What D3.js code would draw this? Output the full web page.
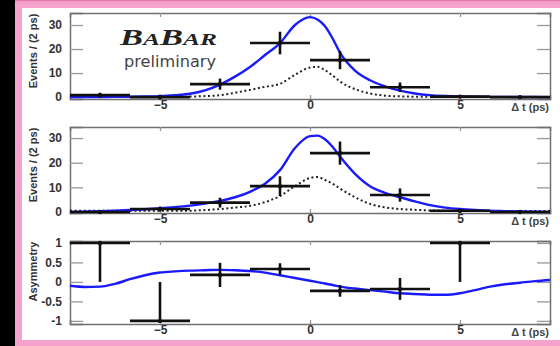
<!DOCTYPE html>
<html>
<head>
<meta charset="utf-8">
<script src="https://cdn.jsdelivr.net/npm/d3@7"></script>
<style>
  html, body { margin: 0; padding: 0; background: #000; }
  svg { display: block; }
  .tick text { font-family: "Liberation Sans", Arial, sans-serif; font-weight: bold; font-size: 12px; fill: #333; }
</style>
</head>
<body>
<svg id="chart" width="560" height="346"></svg>
<script>
// ---- Data ----
const binCenters = [-7, -5, -3, -1, 1, 3, 5, 7];
const binHalfWidth = 1;

// B0 tag: events per 2 ps bin
const tagEvents = [0.8, 0, 5.4, 22.5, 15.4, 4.1, 0.2, 0];
const tagErrors = [1, 1, 2.3, 4.7, 3.8, 2.0, 0.6, 0.5];
// anti-B0 tag: events per 2 ps bin
const antiEvents = [0, 1.2, 3.8, 10.5, 23.9, 6.9, 0.5, 0];
const antiErrors = [0.5, 1, 2.0, 4.0, 4.7, 2.7, 0.7, 0.5];

// Asymmetry per bin (only bins with entries)
const asymCenters = [-7, -5, -3, -1, 1, 3, 5];
const asymValues  = [1, -1, 0.18, 0.33, -0.23, -0.18, 1];
const asymErrLow  = [1, 0, 0.31, 0.15, 0.15, 0.28, 1];
const asymErrHigh = [0, 1, 0.31, 0.15, 0.15, 0.28, 0];

// Fit curves sampled in Δt (ps)
const fitT = [-8, -7.5, -7, -6.5, -6, -5.5, -5, -4.5, -4, -3.5, -3, -2.5, -2, -1.5, -1, -0.5, 0, 0.25, 0.5, 0.75, 1, 1.5, 2, 2.5, 3, 3.5, 4, 4.5, 5, 5.5, 6, 6.5, 7, 7.5, 8];
const tagFit  = [0, 0, 0.05, 0.1, 0.15, 0.25, 0.4, 0.8, 1.4, 2.8, 5.2, 8.5, 12.5, 17.5, 22.5, 30, 33.3, 32.3, 29.5, 24.5, 18.5, 11, 7, 4.5, 2.7, 1.5, 0.8, 0.45, 0.25, 0.15, 0.1, 0.07, 0.05, 0.02, 0];
const tagBkg  = [0, 0, 0, 0, 0, 0, 0.05, 0.1, 0.2, 0.4, 0.8, 1.8, 3, 4.3, 5.5, 9.3, 12.3, 12.6, 11.2, 9, 6.5, 3.3, 1.5, 0.6, 0.3, 0.15, 0.1, 0.05, 0, 0, 0, 0, 0, 0, 0];
const antiFit = [0, 0.15, 0.3, 0.5, 0.8, 1.1, 1.5, 2, 2.6, 3.4, 4.5, 6, 8.2, 11.5, 17, 26, 30.8, 31, 29.5, 26.5, 22.5, 15.5, 10.5, 7.8, 6, 4.3, 2.8, 1.8, 1.2, 0.8, 0.5, 0.35, 0.2, 0.1, 0];
const antiBkg = [0.5, 0.5, 0.5, 0.5, 0.5, 0.5, 0.5, 0.5, 0.55, 0.8, 1.2, 1.8, 2.5, 4, 6.5, 10.5, 13.8, 14.2, 13, 11.5, 9.5, 6, 3.3, 1.9, 1.2, 0.9, 0.6, 0.5, 0.4, 0.4, 0.4, 0.4, 0.4, 0.4, 0.4];
const asymFit = [-0.1, -0.13, -0.12, -0.05, 0.07, 0.17, 0.24, 0.27, 0.29, 0.3, 0.31, 0.3, 0.28, 0.24, 0.17, 0.1, 0.03, -0.005, -0.04, -0.08, -0.12, -0.17, -0.21, -0.25, -0.29, -0.31, -0.33, -0.33, -0.29, -0.21, -0.12, -0.06, -0.02, 0.02, 0.05];

// Axis ticks
const xTicks = [-5, 0, 5];
const eventTicks = [0, 10, 20, 30];
const asymTicks = [-1, -0.5, 0, 0.5, 1];
const asymTickLabels = ["-1", "-0.5", "0", "0.5", "1"];

// ---- Layout ----
const svg = d3.select("#chart");
const pink = "#f5a3cc";
const blue = "#1a1aff";
const frameColor = "#707070";

svg.append("rect").attr("x", 0).attr("y", 0).attr("width", 560).attr("height", 346).attr("fill", "#000");
svg.append("rect").attr("x", 15).attr("y", 0).attr("width", 545).attr("height", 346).attr("fill", pink);
svg.append("rect").attr("x", 15).attr("y", 0).attr("width", 545).attr("height", 1.2).attr("fill", "#e07aae");
svg.append("rect").attr("x", 22).attr("y", 8).attr("width", 538).attr("height", 332).attr("fill", "#fff");

const x = d3.scaleLinear().domain([-8, 8]).range([70, 550]);

const panels = [
  { top: 13,  bottom: 99,  domain: [-0.8, 35],   ticks: eventTicks, labels: eventTicks.map(String), ylabel: "Events / (2 ps)" },
  { top: 127, bottom: 213, domain: [-0.4, 34.5], ticks: eventTicks, labels: eventTicks.map(String), ylabel: "Events / (2 ps)" },
  { top: 241, bottom: 324, domain: [-1.08, 1.05], ticks: asymTicks, labels: asymTickLabels, ylabel: "Asymmetry" }
];
panels.forEach(p => { p.y = d3.scaleLinear().domain(p.domain).range([p.bottom, p.top]); });

function drawFrame(p) {
  const g = svg.append("g");
  const yAxisL = d3.axisLeft(p.y).tickValues(p.ticks).tickSize(-13).tickPadding(8)
    .tickFormat((d, i) => p.labels[i]);
  const yAxisR = d3.axisRight(p.y).tickValues(p.ticks).tickSize(-13).tickFormat("");
  const xAxisB = d3.axisBottom(x).tickValues(xTicks).tickSize(-4).tickPadding(1).tickFormat(d3.format("d"));
  const xAxisT = d3.axisTop(x).tickValues(xTicks).tickSize(-4).tickFormat("");

  const gl = g.append("g").attr("transform", `translate(${x.range()[0]},0)`).call(yAxisL);
  const gr = g.append("g").attr("transform", `translate(${x.range()[1]},0)`).call(yAxisR);
  const gb = g.append("g").attr("transform", `translate(0,${p.bottom})`).call(xAxisB);
  const gt = g.append("g").attr("transform", `translate(0,${p.top})`).call(xAxisT);
  [gl, gr, gb, gt].forEach(a => {
    a.select(".domain").attr("stroke", frameColor).attr("stroke-width", 1.5);
    a.selectAll(".tick line").attr("stroke", "#999").attr("stroke-width", 1.3);
  });
  gb.selectAll(".tick text").attr("dy", "0.72em");

  // Δt axis title
  g.append("text")
    .attr("x", 549).attr("y", p.bottom + 12)
    .attr("text-anchor", "end")
    .attr("font-family", "Liberation Sans, Arial, sans-serif")
    .attr("font-weight", "bold").attr("font-size", 11).attr("fill", "#444")
    .text("\u0394 t (ps)");

  // y title
  g.append("text")
    .attr("transform", `translate(37,${(p.top + p.bottom) / 2 + (p.ylabel === "Asymmetry" ? -11 : -5)}) rotate(-90)`)
    .attr("text-anchor", "middle")
    .attr("font-family", "Liberation Sans, Arial, sans-serif")
    .attr("font-weight", "bold").attr("font-size", 11).attr("fill", "#333")
    .text(p.ylabel);
}

function drawCurve(p, values, style) {
  const line = d3.line()
    .x((d, i) => x(fitT[i]))
    .y(d => p.y(d))
    .curve(d3.curveMonotoneX);
  const path = svg.append("path")
    .datum(values)
    .attr("fill", "none")
    .attr("d", line);
  if (style === "fit") {
    path.attr("stroke", blue).attr("stroke-width", 2.4);
  } else {
    path.attr("stroke", "#222").attr("stroke-width", 2).attr("stroke-dasharray", "2,2.6");
  }
}

function drawPoints(p, centers, vals, lo, hi) {
  const g = svg.append("g").attr("stroke", "#111");
  centers.forEach((c, i) => {
    g.append("line")
      .attr("x1", x(c - binHalfWidth)).attr("x2", x(c + binHalfWidth))
      .attr("y1", p.y(vals[i])).attr("y2", p.y(vals[i]))
      .attr("stroke-width", 2.6);
    g.append("line")
      .attr("x1", x(c)).attr("x2", x(c))
      .attr("y1", p.y(vals[i] - lo[i])).attr("y2", p.y(vals[i] + hi[i]))
      .attr("stroke-width", 2.6);
    g.append("circle")
      .attr("cx", x(c)).attr("cy", p.y(vals[i])).attr("r", 2.2)
      .attr("fill", "#111").attr("stroke", "none");
  });
}

panels.forEach(drawFrame);

// Panel 1: B0 tags
drawCurve(panels[0], tagBkg, "bkg");
drawCurve(panels[0], tagFit, "fit");
drawPoints(panels[0], binCenters, tagEvents, tagErrors, tagErrors);

// Panel 2: anti-B0 tags
drawCurve(panels[1], antiBkg, "bkg");
drawCurve(panels[1], antiFit, "fit");
drawPoints(panels[1], binCenters, antiEvents, antiErrors, antiErrors);

// Panel 3: asymmetry
drawCurve(panels[2], asymFit, "fit");
drawPoints(panels[2], asymCenters, asymValues, asymErrLow, asymErrHigh);

// BaBar logo
const logo = svg.append("text")
  .attr("x", 120).attr("y", 45)
  .attr("font-family", "Liberation Serif, Times New Roman, serif")
  .attr("font-weight", "bold").attr("font-style", "italic")
  .attr("fill", "#222")
  .attr("textLength", 97).attr("lengthAdjust", "spacingAndGlyphs");
[["B", 23], ["A", 17], ["B", 23], ["AR", 17]].forEach(([s, fs]) => {
  logo.append("tspan").attr("font-size", fs).text(s);
});
svg.append("text")
  .attr("x", 124).attr("y", 67)
  .attr("font-family", "DejaVu Sans, Verdana, sans-serif")
  .attr("font-size", 15).attr("fill", "#444")
  .attr("textLength", 92).attr("lengthAdjust", "spacingAndGlyphs")
  .text("preliminary");
</script>
</body>
</html>
